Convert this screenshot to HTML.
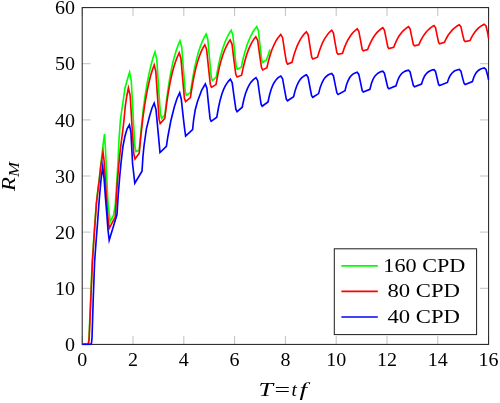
<!DOCTYPE html>
<html><head><meta charset="utf-8"><title>R_M vs T</title>
<style>html,body{margin:0;padding:0;background:#fff}svg{display:block}text{font-family:"Liberation Serif",serif;fill:#000}</style></head><body>
<svg width="500" height="403" viewBox="0 0 500 403">
<rect x="0" y="0" width="500" height="403" fill="#fff"/>
<path d="M82.2 344.4v-8.4M82.2 7.6v8.4M133.0 344.4v-8.4M133.0 7.6v8.4M183.8 344.4v-8.4M183.8 7.6v8.4M234.6 344.4v-8.4M234.6 7.6v8.4M285.4 344.4v-8.4M285.4 7.6v8.4M336.2 344.4v-8.4M336.2 7.6v8.4M387.0 344.4v-8.4M387.0 7.6v8.4M437.8 344.4v-8.4M437.8 7.6v8.4M488.6 344.4v-8.4M488.6 7.6v8.4M82.2 344.4h8.4M488.6 344.4h-8.4M82.2 288.3h8.4M488.6 288.3h-8.4M82.2 232.1h8.4M488.6 232.1h-8.4M82.2 176.0h8.4M488.6 176.0h-8.4M82.2 119.9h8.4M488.6 119.9h-8.4M82.2 63.7h8.4M488.6 63.7h-8.4M82.2 7.6h8.4M488.6 7.6h-8.4" stroke="#808080" stroke-width="0.5" fill="none"/>
<rect x="82.2" y="7.6" width="406.4" height="336.8" fill="none" stroke="#1c1c1c" stroke-width="1"/>
<clipPath id="c"><rect x="81.3" y="5.6" width="408.2" height="339.7"/></clipPath>
<g clip-path="url(#c)">
<polyline points="82.2,344.4 88.2,344.4 89.0,338.0 90.6,300.0 92.2,262.0 94.2,232.0 96.2,204.0 97.8,190.0 99.1,180.0 100.6,166.0 101.8,156.0 103.2,144.0 104.5,134.0 105.5,150.0 106.6,175.0 108.0,203.0 110.2,221.7 113.5,215.5 115.3,205.0 116.5,186.0 117.8,166.0 119.0,140.0 120.4,120.0 123.3,100.0 125.0,88.0 127.5,79.0 129.6,72.4 131.3,81.1 133.1,115.1 134.8,146.0 136.0,151.5 139.2,150.2 141.2,128.6 143.1,110.7 145.1,95.8 147.1,83.5 149.1,73.3 151.1,64.8 153.0,57.8 155.0,52.0 156.8,59.3 158.6,87.9 160.4,113.8 161.6,118.4 164.8,115.2 166.7,98.8 168.6,85.3 170.5,74.0 172.4,64.7 174.3,56.9 176.2,50.5 178.1,45.2 180.0,40.8 181.7,46.8 183.5,70.2 185.2,91.4 186.4,95.2 190.4,92.8 192.4,79.9 194.3,69.2 196.3,60.3 198.2,52.9 200.2,46.8 202.2,41.8 204.1,37.6 206.1,34.1 207.8,39.2 209.6,59.2 211.3,77.3 212.4,80.5 216.3,77.0 218.2,66.7 220.0,58.2 221.9,51.2 223.8,45.4 225.6,40.5 227.5,36.5 229.3,33.2 231.2,30.4 232.8,34.7 234.6,51.4 236.2,66.6 237.3,69.3 241.3,67.2 243.2,58.3 245.2,50.9 247.1,44.8 249.1,39.7 251.0,35.5 252.9,32.0 254.9,29.1 256.8,26.7 258.4,30.6 260.1,46.0 261.7,59.9 262.8,62.4 266.4,60.0 268.2,55.0 269.9,49.6" fill="none" stroke="#00ff00" stroke-width="1.65" stroke-linejoin="miter" stroke-miterlimit="10"/>
<polyline points="82.2,344.4 88.4,344.4 89.2,338.0 90.8,300.0 92.4,262.0 94.4,232.0 96.4,204.0 98.0,190.0 99.3,180.0 100.8,166.0 103.0,152.0 104.2,162.0 105.6,184.0 107.4,212.0 109.2,228.5 115.3,216.8 116.2,200.0 117.2,184.0 118.8,165.0 120.5,148.0 122.6,132.0 124.0,120.0 125.3,106.0 126.8,96.0 128.4,88.0 130.2,95.8 132.0,126.3 133.8,154.0 135.0,159.0 139.2,153.2 141.1,133.8 142.9,117.7 144.8,104.4 146.7,93.3 148.6,84.1 150.4,76.5 152.3,70.2 154.2,65.0 155.8,71.4 157.5,96.6 159.1,119.4 160.2,123.5 164.8,118.4 166.6,104.0 168.4,92.0 170.2,82.1 172.0,73.8 173.8,67.0 175.6,61.4 177.4,56.7 179.2,52.8 180.9,58.2 182.7,79.2 184.4,98.2 185.6,101.6 190.4,97.6 192.2,86.0 194.0,76.3 195.8,68.4 197.6,61.7 199.4,56.3 201.2,51.7 203.0,47.9 204.8,44.8 206.6,49.5 208.5,67.7 210.3,84.2 211.5,87.2 216.0,84.6 217.8,74.8 219.5,66.6 221.3,59.9 223.1,54.3 224.8,49.7 226.6,45.8 228.3,42.6 230.1,40.0 232.0,44.1 233.9,59.9 235.8,74.3 237.1,76.9 241.6,75.2 243.4,66.7 245.2,59.7 246.9,53.9 248.7,49.1 250.5,45.1 252.2,41.8 254.0,39.1 255.8,36.8 257.7,40.4 259.6,54.7 261.5,67.6 262.7,69.9 266.9,67.7 268.6,60.4 270.4,54.3 272.1,49.3 273.9,45.1 275.6,41.6 277.3,38.8 279.1,36.4 280.8,34.4 282.6,37.7 284.5,50.4 286.4,62.0 287.6,64.1 292.0,62.3 293.8,55.6 295.6,50.0 297.4,45.4 299.2,41.6 301.0,38.4 302.8,35.8 304.6,33.6 306.4,31.8 308.2,34.8 310.0,46.5 311.7,57.1 312.9,59.0 317.5,57.2 319.3,51.3 321.1,46.3 322.8,42.2 324.6,38.9 326.4,36.1 328.1,33.7 329.9,31.8 331.7,30.2 333.4,32.9 335.2,43.3 336.9,52.7 338.1,54.4 342.5,53.3 344.3,47.9 346.2,43.4 348.0,39.7 349.9,36.7 351.7,34.1 353.5,32.0 355.4,30.3 357.2,28.8 358.8,31.2 360.6,40.7 362.2,49.4 363.3,50.9 367.6,49.6 369.5,44.8 371.4,40.8 373.3,37.5 375.2,34.7 377.1,32.4 379.0,30.6 380.9,29.0 382.8,27.7 384.4,30.0 386.2,38.9 387.8,47.0 388.9,48.5 393.7,47.2 395.6,42.7 397.4,38.9 399.2,35.8 401.1,33.3 402.9,31.1 404.8,29.4 406.6,27.9 408.5,26.7 410.1,28.8 411.8,37.1 413.4,44.6 414.5,45.9 418.8,44.8 420.7,40.6 422.6,37.1 424.5,34.2 426.4,31.8 428.3,29.8 430.2,28.1 432.1,26.7 434.0,25.6 435.5,27.6 437.1,35.4 438.6,42.4 439.6,43.7 444.4,42.4 446.3,38.5 448.1,35.3 450.0,32.7 451.9,30.4 453.7,28.6 455.6,27.1 457.4,25.8 459.3,24.8 460.9,26.6 462.5,33.9 464.1,40.4 465.2,41.6 470.0,40.5 471.8,36.9 473.6,33.9 475.3,31.5 477.1,29.4 478.9,27.7 480.6,26.3 482.4,25.2 484.2,24.2 486.0,25.9 487.8,33.5 488.6,38.5" fill="none" stroke="#ff0000" stroke-width="1.65" stroke-linejoin="miter" stroke-miterlimit="10"/>
<polyline points="82.2,344.4 90.7,344.4 91.5,343.0 92.0,338.0 93.2,300.0 94.6,262.0 96.2,240.0 97.0,230.0 98.9,204.0 100.0,191.0 101.0,180.0 102.7,166.5 104.2,180.0 105.4,197.0 106.8,214.0 108.0,230.0 109.2,240.2 117.0,214.5 118.2,195.0 119.6,178.0 121.0,163.0 123.0,146.0 125.0,136.0 127.0,129.0 129.4,124.8 130.9,132.0 132.6,164.0 134.8,183.2 142.0,171.2 143.0,156.0 144.0,146.0 146.4,128.8 149.6,116.0 152.0,108.0 154.2,103.2 156.0,109.6 158.4,135.2 160.0,152.5 166.4,146.4 167.8,137.0 170.8,121.0 174.3,107.0 177.0,98.5 179.7,92.8 181.3,99.2 183.2,116.8 184.5,128.0 185.6,136.0 192.6,129.6 193.6,120.0 195.2,110.0 197.5,101.5 201.6,90.4 205.3,84.0 206.9,88.1 208.5,104.1 210.1,118.7 211.2,121.3 216.8,117.2 218.5,107.5 220.2,99.9 221.9,94.0 223.6,89.4 225.3,85.8 227.0,83.1 228.7,80.9 230.4,79.2 232.2,82.8 234.1,96.8 235.9,109.4 237.1,111.7 242.2,107.2 243.9,99.3 245.6,93.2 247.4,88.6 249.1,85.1 250.8,82.4 252.6,80.4 254.3,78.8 256.0,77.6 257.7,80.7 259.4,93.0 261.1,104.2 262.2,106.2 268.0,102.0 269.6,94.7 271.2,89.3 272.8,85.2 274.4,82.2 276.0,79.9 277.6,78.2 279.2,76.9 280.8,76.0 282.6,78.7 284.5,89.4 286.3,99.1 287.5,100.8 293.6,96.8 295.2,90.4 296.8,85.7 298.4,82.3 300.0,79.8 301.6,77.9 303.2,76.6 304.8,75.6 306.4,74.9 308.1,77.4 309.9,87.0 311.6,95.7 312.8,97.3 318.6,93.6 320.2,87.4 321.9,83.0 323.5,79.9 325.1,77.6 326.8,76.0 328.4,74.8 330.1,74.0 331.7,73.4 333.4,75.7 335.2,84.7 336.9,92.9 338.1,94.4 345.0,90.6 346.5,84.8 348.1,80.7 349.6,77.8 351.1,75.8 352.6,74.4 354.1,73.4 355.7,72.7 357.2,72.2 358.8,74.4 360.6,82.9 362.2,90.6 363.3,92.0 369.9,89.3 371.5,83.3 373.1,79.2 374.7,76.4 376.4,74.5 378.0,73.2 379.6,72.3 381.2,71.6 382.8,71.2 384.4,73.1 386.2,80.7 387.8,87.6 388.9,88.8 396.0,85.8 397.6,80.7 399.1,77.1 400.7,74.7 402.2,73.0 403.8,71.9 405.4,71.1 406.9,70.6 408.5,70.2 410.1,72.0 411.8,79.1 413.4,85.5 414.5,86.7 421.5,84.0 423.1,79.3 424.6,76.0 426.2,73.8 427.8,72.2 429.3,71.2 430.9,70.4 432.4,69.9 434.0,69.6 435.5,71.4 437.1,78.2 438.6,84.5 439.6,85.6 447.4,82.4 448.9,78.1 450.4,75.2 451.9,73.2 453.4,71.8 454.8,70.8 456.3,70.2 457.8,69.7 459.3,69.4 460.9,71.1 462.5,77.6 464.1,83.4 465.2,84.5 472.4,81.6 473.9,77.1 475.4,74.0 476.9,71.9 478.4,70.5 479.8,69.5 481.3,68.8 482.8,68.3 484.3,68.0 486.0,69.5 487.8,76.0 488.6,80.0" fill="none" stroke="#0000ff" stroke-width="1.65" stroke-linejoin="miter" stroke-miterlimit="10"/>
</g>
<rect x="334.3" y="248.8" width="142.3" height="85.8" fill="#fff" stroke="#1c1c1c" stroke-width="1"/>
<line x1="341.4" y1="265.9" x2="377.8" y2="265.9" stroke="#00ff00" stroke-width="1.65"/>
<line x1="341.4" y1="291.4" x2="377.8" y2="291.4" stroke="#ff0000" stroke-width="1.65"/>
<line x1="341.4" y1="317.0" x2="377.8" y2="317.0" stroke="#0000ff" stroke-width="1.65"/>
<text x="383.3" y="271.6" font-size="19.4" textLength="82" lengthAdjust="spacingAndGlyphs">160 CPD</text>
<text x="387.4" y="297" font-size="19.4" textLength="72.5" lengthAdjust="spacingAndGlyphs">80 CPD</text>
<text x="387.4" y="322.5" font-size="19.4" textLength="72.5" lengthAdjust="spacingAndGlyphs">40 CPD</text>
<text x="65.1" y="351.1" font-size="19.1" textLength="10.0" lengthAdjust="spacingAndGlyphs">0</text>
<text x="55.1" y="295.0" font-size="19.1" textLength="20.0" lengthAdjust="spacingAndGlyphs">10</text>
<text x="55.1" y="238.8" font-size="19.1" textLength="20.0" lengthAdjust="spacingAndGlyphs">20</text>
<text x="55.1" y="182.7" font-size="19.1" textLength="20.0" lengthAdjust="spacingAndGlyphs">30</text>
<text x="55.1" y="126.6" font-size="19.1" textLength="20.0" lengthAdjust="spacingAndGlyphs">40</text>
<text x="55.1" y="70.4" font-size="19.1" textLength="20.0" lengthAdjust="spacingAndGlyphs">50</text>
<text x="55.1" y="14.3" font-size="19.1" textLength="20.0" lengthAdjust="spacingAndGlyphs">60</text>
<text x="77.2" y="366.3" font-size="19.1" textLength="10.0" lengthAdjust="spacingAndGlyphs">0</text>
<text x="128.0" y="366.3" font-size="19.1" textLength="10.0" lengthAdjust="spacingAndGlyphs">2</text>
<text x="178.8" y="366.3" font-size="19.1" textLength="10.0" lengthAdjust="spacingAndGlyphs">4</text>
<text x="229.6" y="366.3" font-size="19.1" textLength="10.0" lengthAdjust="spacingAndGlyphs">6</text>
<text x="280.4" y="366.3" font-size="19.1" textLength="10.0" lengthAdjust="spacingAndGlyphs">8</text>
<text x="326.2" y="366.3" font-size="19.1" textLength="20.0" lengthAdjust="spacingAndGlyphs">10</text>
<text x="377.0" y="366.3" font-size="19.1" textLength="20.0" lengthAdjust="spacingAndGlyphs">12</text>
<text x="427.8" y="366.3" font-size="19.1" textLength="20.0" lengthAdjust="spacingAndGlyphs">14</text>
<text x="478.6" y="366.3" font-size="19.1" textLength="20.0" lengthAdjust="spacingAndGlyphs">16</text>
<g font-style="italic">
<text x="258.6" y="396" font-size="19.4" textLength="14.5" lengthAdjust="spacingAndGlyphs">T</text>
<text x="291.4" y="396" font-size="19.4">t</text>
<text x="299.5" y="396" font-size="19.4" textLength="7.6" lengthAdjust="spacingAndGlyphs">f</text>
</g>
<text x="274.4" y="396" font-size="19.4" textLength="15.6" lengthAdjust="spacingAndGlyphs">=</text>
<g transform="translate(15.1,191) rotate(-90)" font-style="italic"><text x="0" y="0" font-size="19.4" textLength="13.8" lengthAdjust="spacingAndGlyphs">R</text><text x="14" y="3.5" font-size="13.8" textLength="15" lengthAdjust="spacingAndGlyphs">M</text></g>
</svg></body></html>
